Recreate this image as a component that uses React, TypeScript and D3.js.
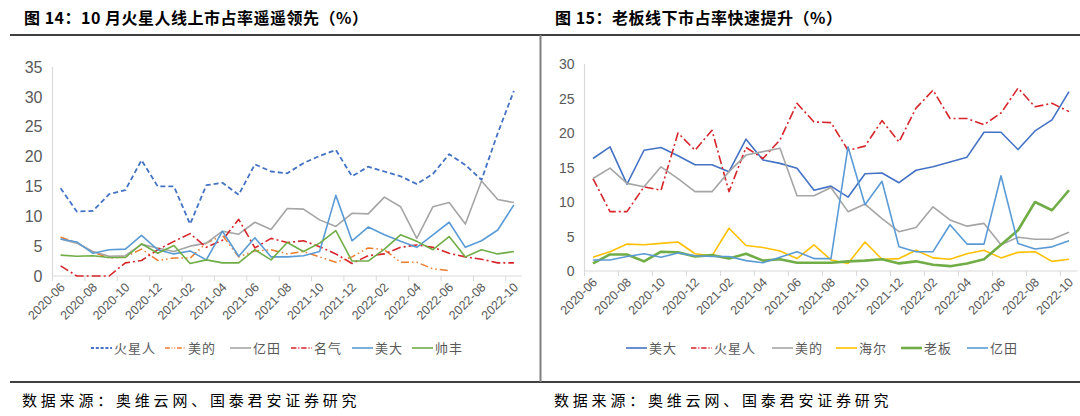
import * as d3 from "d3";

const months = [
  "2020-06", "2020-07", "2020-08", "2020-09", "2020-10", "2020-11", "2020-12",
  "2021-01", "2021-02", "2021-03", "2021-04", "2021-05", "2021-06", "2021-07",
  "2021-08", "2021-09", "2021-10", "2021-11", "2021-12", "2022-01", "2022-02",
  "2022-03", "2022-04", "2022-05", "2022-06", "2022-07", "2022-08", "2022-09",
  "2022-10",
];

// 图14 线上市占率
const onHuoxingren = [14.7, 10.8, 10.9, 13.7, 14.4, 19.4, 15.0, 15.0, 8.7, 15.2, 15.6, 13.6, 18.7, 17.5, 17.2, 18.9, 20.1, 21.1, 16.7, 18.3, 17.5, 16.7, 15.4, 17.1, 20.4, 18.6, 16.1, 23.9, 31.0];
const onMeide = [6.5, 5.6, 4.0, 3.0, 3.2, 4.5, 2.6, 3.0, 3.0, 5.5, 6.8, 3.2, 4.2, 4.4, 3.7, 4.1, 3.2, 2.3, 3.2, 4.7, 4.4, 2.3, 2.3, 1.2, 0.9, null, null, null, null];
const onYitian = [6.2, 5.5, 4.1, 3.3, 3.4, 5.3, 4.7, 4.1, 5.0, 5.5, 7.5, 7.0, 9.0, 7.8, 11.3, 11.2, 9.4, 8.3, 10.5, 10.4, 13.2, 11.6, 6.3, 11.6, 12.3, 8.7, 15.9, 12.8, 12.3];
const onMingqi = [1.7, 0, 0, 0, 2.2, 2.6, 4.4, 5.8, 7.1, 4.8, 6.0, 9.5, 4.7, 6.3, 5.6, 5.9, 4.9, 3.7, 2.1, 3.4, 3.7, 4.8, 5.2, 4.8, 3.8, 3.2, 2.8, 2.2, 2.2];
const onMeida = [6.2, 5.7, 3.8, 4.4, 4.5, 6.8, 4.4, 3.7, 4.2, 2.7, 7.5, 3.3, 6.4, 3.2, 3.2, 3.4, 4.1, 13.5, 5.9, 8.2, 6.9, 5.8, 4.8, 6.9, 9.0, 4.8, 5.9, 7.7, 11.9];
const onShuaifeng = [3.5, 3.3, 3.4, 3.1, 3.1, 5.4, 3.8, 5.1, 2.1, 2.7, 2.2, 2.2, 4.4, 2.7, 5.6, 4.1, 5.5, 7.6, 2.5, 2.5, 4.5, 6.9, 5.8, 4.4, 6.6, 3.2, 4.4, 3.7, 4.1];

// 图15 线下市占率
const offMeida = [16.3, 18.0, 12.6, 17.5, 17.9, 16.7, 15.4, 15.4, 14.4, 19.1, 16.1, 15.6, 14.9, 11.7, 12.3, 10.7, 14.1, 14.2, 12.8, 14.6, 15.1, 15.8, 16.5, 20.1, 20.1, 17.6, 20.3, 21.9, 26.0];
const offHuoxingren = [13.4, 8.6, 8.6, 12.2, 11.7, 20.0, 17.5, 20.4, 11.5, 17.9, 16.3, 19.0, 24.3, 21.6, 21.5, 17.5, 18.1, 21.8, 18.7, 23.6, 26.2, 22.1, 22.1, 21.2, 22.9, 26.5, 23.8, 24.3, 23.1];
const offMeide = [13.4, 14.9, 12.7, 12.2, 15.1, 13.4, 11.5, 11.5, 14.4, 16.8, 17.3, 17.8, 10.9, 10.9, 12.1, 8.6, 9.7, 7.6, 5.7, 6.3, 9.3, 7.4, 6.5, 6.9, 3.8, 4.9, 4.6, 4.6, 5.6];
const offHaier = [2.0, 2.8, 3.9, 3.8, 4.0, 4.2, 2.5, 2.2, 6.2, 3.7, 3.4, 2.9, 1.8, 3.8, 1.6, 1.1, 4.2, 1.7, 1.8, 3.0, 1.9, 1.7, 2.5, 3.0, 1.9, 2.7, 2.8, 1.4, 1.7];
const offLaoban = [1.1, 2.4, 2.4, 1.4, 2.8, 2.7, 2.1, 2.3, 1.8, 2.5, 1.5, 1.7, 1.2, 1.2, 1.2, 1.4, 1.5, 1.7, 1.1, 1.4, 0.9, 0.7, 1.1, 1.7, 3.8, 5.9, 10.0, 8.8, 11.7];
const offYitian = [1.6, 1.6, 2.1, 2.5, 2.0, 2.6, 2.2, 2.1, 2.1, 1.5, 1.2, 2.0, 2.8, 1.8, 1.8, 18.0, 9.6, 13.0, 3.5, 2.8, 2.8, 6.7, 3.9, 3.9, 13.8, 4.0, 3.2, 3.5, 4.4];

const leftTicks = [0, 5, 10, 15, 20, 25, 30, 35];
const rightTicks = [0, 5, 10, 15, 20, 25, 30];

type Series = {
  name: string;
  values: (number | null)[];
  color: string;
  width: number;
  dash?: string;
};

const leftSeries: Series[] = [
  { name: "火星人", values: onHuoxingren, color: "#4472C4", width: 1.8, dash: "5,3" },
  { name: "美的", values: onMeide, color: "#ED7D31", width: 1.5, dash: "8,3,1.5,3,1.5,3" },
  { name: "亿田", values: onYitian, color: "#A5A5A5", width: 1.6 },
  { name: "名气", values: onMingqi, color: "#D6262B", width: 1.6, dash: "9,3,2,3" },
  { name: "美大", values: onMeida, color: "#5B9BD5", width: 1.6 },
  { name: "帅丰", values: onShuaifeng, color: "#70AD47", width: 1.6 },
];

const rightSeries: Series[] = [
  { name: "美大", values: offMeida, color: "#4472C4", width: 1.6 },
  { name: "火星人", values: offHuoxingren, color: "#D6262B", width: 1.6, dash: "9,3,2,3" },
  { name: "美的", values: offMeide, color: "#A5A5A5", width: 1.6 },
  { name: "海尔", values: offHaier, color: "#FFC000", width: 1.6 },
  { name: "老板", values: offLaoban, color: "#70AD47", width: 2.6 },
  { name: "亿田", values: offYitian, color: "#5B9BD5", width: 1.6 },
];

const CJK = "'Noto Sans CJK SC', sans-serif";
const NUM = "'Liberation Sans Narrow', 'Liberation Sans', Arial, sans-serif";

type PanelProps = {
  series: Series[];
  x0: number;
  x1: number;
  yTop: number;
  yBottom: number;
  yMax: number;
  ticks: number[];
  tickFont: number;
  legendX: number[];
};

function Panel({ series, x0, x1, yTop, yBottom, yMax, ticks, tickFont, legendX }: PanelProps) {
  const x = d3.scaleBand<string>().domain(months).range([x0, x1]).padding(0);
  const bw = x.bandwidth();
  const cx = (m: string) => (x(m) as number) + bw / 2;
  const y = d3.scaleLinear().domain([0, yMax]).range([yBottom, yTop]);
  const line = d3
    .line<number | null>()
    .defined((d) => d !== null)
    .x((_, i) => cx(months[i]))
    .y((d) => y(d as number));

  const labelled = months.filter((_, i) => i % 2 === 0);
  const tickPos = d3.range(0, months.length + 1, 2).map((i) => x0 + i * bw);

  return (
    <g>
      {/* axes */}
      <line x1={x0} x2={x0} y1={yTop} y2={yBottom} stroke="#D9D9D9" strokeWidth={1.2} />
      <line x1={x0} x2={x1} y1={yBottom} y2={yBottom} stroke="#D9D9D9" strokeWidth={1.2} />
      {tickPos.map((p, i) => (
        <line key={i} x1={p} x2={p} y1={yBottom} y2={yBottom + 5} stroke="#D9D9D9" strokeWidth={1} />
      ))}
      {ticks.map((t) => (
        <text
          key={t}
          x={x0 - 10}
          y={y(t)}
          dy="0.36em"
          textAnchor="end"
          fontFamily={NUM}
          fontSize={tickFont}
          fill="#595959"
        >
          {t}
        </text>
      ))}
      {labelled.map((m) => (
        <text
          key={m}
          transform={`translate(${cx(m) + 5},${yBottom + 12}) rotate(-45)`}
          textAnchor="end"
          fontFamily={NUM}
          fontSize={12.5}
          fill="#595959"
        >
          {m}
        </text>
      ))}
      {series.map((s) => (
        <path
          key={s.name}
          d={line(s.values) || ""}
          fill="none"
          stroke={s.color}
          strokeWidth={s.width}
          strokeDasharray={s.dash}
          strokeLinejoin="round"
        />
      ))}
      {/* legend */}
      {series.map((s, i) => (
        <g key={s.name} transform={`translate(${legendX[i]},348)`}>
          <line x1={0} x2={21} y1={0} y2={0} stroke={s.color} strokeWidth={s.width} strokeDasharray={s.dash ? s.dash.split(",").map((v) => +v * 0.6).join(",") : undefined} />
          <text x={23} y={0} dy="0.36em" fontFamily={CJK} fontSize={13} letterSpacing={1} fill="#595959">
            {s.name}
          </text>
        </g>
      ))}
    </g>
  );
}

export default function App() {
  return (
    <div style={{ position: "fixed", left: 0, top: 0, background: "#fff" }}>
      <svg width={1080} height={416} style={{ display: "block" }}>
        <rect width={1080} height={416} fill="#fff" />
        <text x={24} y={24} fontFamily={CJK} fontWeight={700} fontSize={16} letterSpacing={0.5} fill="#000">
          图 14：10 月火星人线上市占率遥遥领先（%）
        </text>
        <text x={555} y={24} fontFamily={CJK} fontWeight={700} fontSize={16} letterSpacing={0.5} fill="#000">
          图 15：老板线下市占率快速提升（%）
        </text>
        <line x1={10} x2={1080} y1={35} y2={35} stroke="#000" strokeWidth={1.5} />
        <line x1={10} x2={1080} y1={382} y2={382} stroke="#000" strokeWidth={1.5} />
        <line x1={540.5} x2={540.5} y1={35} y2={382} stroke="#7F7F7F" strokeWidth={2} />

        <Panel
          series={leftSeries}
          x0={52.5}
          x1={522}
          yTop={67}
          yBottom={276}
          yMax={35}
          ticks={leftTicks}
          tickFont={16}
          legendX={[91, 165, 230, 291, 352, 412]}
        />
        <Panel
          series={rightSeries}
          x0={584.5}
          x1={1077.5}
          yTop={64}
          yBottom={271}
          yMax={30}
          ticks={rightTicks}
          tickFont={14}
          legendX={[626, 691, 772, 836, 901, 967]}
        />

        <text x={22} y={406} fontFamily={CJK} fontSize={15} letterSpacing={3.8} fill="#000">
          数据来源：奥维云网、国泰君安证券研究
        </text>
        <text x={554} y={406} fontFamily={CJK} fontSize={15} letterSpacing={3.8} fill="#000">
          数据来源：奥维云网、国泰君安证券研究
        </text>
      </svg>
    </div>
  );
}
